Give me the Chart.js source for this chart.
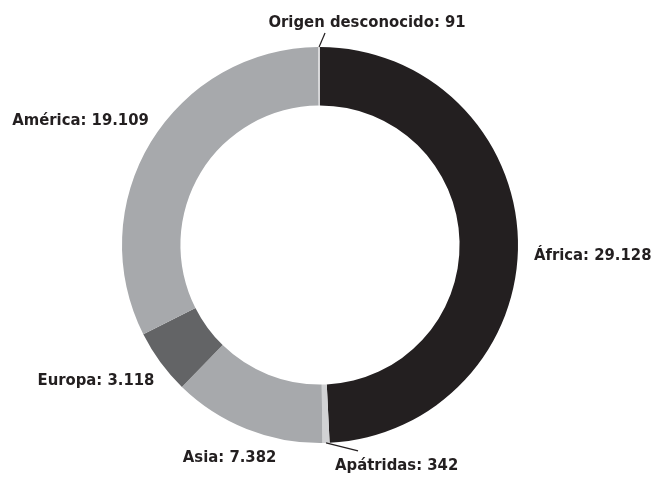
<!DOCTYPE html>
<html>
<head>
<meta charset="utf-8">
<script src="https://cdn.jsdelivr.net/npm/chart.js@4"></script>
<style>
  html, body { margin: 0; padding: 0; background: #fff; }
  #wrap { width: 654px; height: 479px; }
</style>
</head>
<body>
<div id="wrap"><canvas id="chart" width="654" height="479"></canvas></div>
<script>
// Población refugiada por origen (sentido horario desde arriba)
const categories = ['África', 'Apátridas', 'Asia', 'Europa', 'América', 'Origen desconocido'];
const values = [29128, 342, 7382, 3118, 19109, 91];
const valueLabels = ['29.128', '342', '7.382', '3.118', '19.109', '91'];
const sliceColors = ['#231f20', '#d1d2d4', '#a7a9ac', '#636466', '#a7a9ac', '#d6d6d8'];

// where each label sits, relative to the outer mid point of its slice
const labelLayout = [
  { dx: 16, dy: 16, align: 'left' },
  { dx: 9, dy: 23, align: 'left', line: [32, 8] },
  { dx: -17, dy: 29, align: 'center' },
  { dx: -6, dy: 18, align: 'right' },
  { dx: -2, dy: -21, align: 'right' },
  { dx: 48, dy: -24, align: 'center', line: [6, -14] }
];

const labelFont = 'bold 16.5px "Liberation Sans Narrow", "DejaVu Sans Condensed", sans-serif';

const outsideLabels = {
  id: 'outsideLabels',
  afterDatasetsDraw(chart) {
    const ctx = chart.ctx;
    const meta = chart.getDatasetMeta(0);
    ctx.save();
    meta.data.forEach((arc, i) => {
      const p = arc.getProps(['x', 'y', 'startAngle', 'endAngle', 'outerRadius'], true);
      const mid = (p.startAngle + p.endAngle) / 2;
      const ex = p.x + Math.cos(mid) * p.outerRadius;
      const ey = p.y + Math.sin(mid) * p.outerRadius;
      const lay = labelLayout[i];
      if (lay.line) {
        ctx.strokeStyle = '#231f20';
        ctx.lineWidth = 1.2;
        ctx.beginPath();
        ctx.moveTo(ex, ey);
        ctx.lineTo(ex + lay.line[0], ey + lay.line[1]);
        ctx.stroke();
      }
      ctx.font = labelFont;
      ctx.fillStyle = '#231f20';
      ctx.textAlign = lay.align;
      ctx.textBaseline = 'middle';
      ctx.fillText(categories[i] + ': ' + valueLabels[i], ex + lay.dx, ey + lay.dy);
    });
    ctx.restore();
  }
};

new Chart(document.getElementById('chart'), {
  type: 'doughnut',
  data: {
    labels: categories,
    datasets: [{
      data: values,
      backgroundColor: sliceColors,
      borderWidth: 0,
      hoverOffset: 0
    }]
  },
  options: {
    responsive: false,
    animation: false,
    cutout: '70.5%',
    layout: { padding: { top: 47, bottom: 36, left: 122, right: 136 } },
    plugins: {
      legend: { display: false },
      tooltip: { enabled: false }
    }
  },
  plugins: [outsideLabels]
});
</script>
</body>
</html>
